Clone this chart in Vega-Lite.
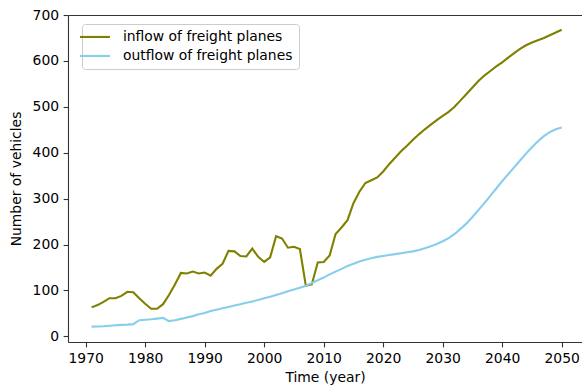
{
  "$schema": "https://vega.github.io/schema/vega-lite/v6.json",
  "autosize": {"type": "none"},
  "padding": {"left": 68, "top": 15, "right": 0, "bottom": 46},
  "width": 514,
  "height": 327,
  "background": "white",
  "config": {
    "view": {"stroke": null},
    "font": "DejaVu Sans",
    "axis": {
      "labelFont": "DejaVu Sans",
      "labelFontSize": 13.9,
      "labelColor": "#000",
      "titleFont": "DejaVu Sans",
      "titleFontSize": 13.9,
      "titleFontWeight": "normal",
      "titleColor": "#000",
      "domainColor": "#333",
      "domainWidth": 1.1,
      "tickColor": "#333",
      "tickWidth": 1.1,
      "tickSize": 4.9,
      "labelPadding": 4.5,
      "grid": false
    }
  },
  "data": {
    "values": [
      {"year": 1971, "inflow": 63, "outflow": 21},
      {"year": 1972, "inflow": 68, "outflow": 21.5},
      {"year": 1973, "inflow": 75, "outflow": 22},
      {"year": 1974, "inflow": 83, "outflow": 23},
      {"year": 1975, "inflow": 83, "outflow": 24},
      {"year": 1976, "inflow": 88, "outflow": 25},
      {"year": 1977, "inflow": 97, "outflow": 25.5},
      {"year": 1978, "inflow": 96, "outflow": 26.5},
      {"year": 1979, "inflow": 83, "outflow": 35},
      {"year": 1980, "inflow": 71, "outflow": 36},
      {"year": 1981, "inflow": 60, "outflow": 37},
      {"year": 1982, "inflow": 60, "outflow": 38.5},
      {"year": 1983, "inflow": 70, "outflow": 40},
      {"year": 1984, "inflow": 90, "outflow": 33},
      {"year": 1985, "inflow": 113, "outflow": 35},
      {"year": 1986, "inflow": 138, "outflow": 38},
      {"year": 1987, "inflow": 137, "outflow": 41},
      {"year": 1988, "inflow": 141, "outflow": 44},
      {"year": 1989, "inflow": 137, "outflow": 48},
      {"year": 1990, "inflow": 139, "outflow": 51},
      {"year": 1991, "inflow": 132, "outflow": 55},
      {"year": 1992, "inflow": 147, "outflow": 58},
      {"year": 1993, "inflow": 158, "outflow": 61},
      {"year": 1994, "inflow": 186, "outflow": 64},
      {"year": 1995, "inflow": 185, "outflow": 67},
      {"year": 1996, "inflow": 175, "outflow": 70},
      {"year": 1997, "inflow": 174, "outflow": 73},
      {"year": 1998, "inflow": 191, "outflow": 76},
      {"year": 1999, "inflow": 173, "outflow": 79},
      {"year": 2000, "inflow": 162, "outflow": 83},
      {"year": 2001, "inflow": 172, "outflow": 86},
      {"year": 2002, "inflow": 218, "outflow": 90},
      {"year": 2003, "inflow": 213, "outflow": 94},
      {"year": 2004, "inflow": 193, "outflow": 98},
      {"year": 2005, "inflow": 195, "outflow": 102},
      {"year": 2006, "inflow": 190, "outflow": 106},
      {"year": 2007, "inflow": 110, "outflow": 110},
      {"year": 2008, "inflow": 113, "outflow": 116},
      {"year": 2009, "inflow": 161, "outflow": 122},
      {"year": 2010, "inflow": 162, "outflow": 128},
      {"year": 2011, "inflow": 176, "outflow": 135},
      {"year": 2012, "inflow": 223, "outflow": 141},
      {"year": 2013, "inflow": 237, "outflow": 147},
      {"year": 2014, "inflow": 253, "outflow": 153},
      {"year": 2015, "inflow": 290, "outflow": 158},
      {"year": 2016, "inflow": 315, "outflow": 163},
      {"year": 2017, "inflow": 334, "outflow": 167},
      {"year": 2018, "inflow": 340, "outflow": 170},
      {"year": 2019, "inflow": 346, "outflow": 173},
      {"year": 2020, "inflow": 359, "outflow": 175},
      {"year": 2021, "inflow": 375, "outflow": 177},
      {"year": 2022, "inflow": 389, "outflow": 179},
      {"year": 2023, "inflow": 403, "outflow": 181},
      {"year": 2024, "inflow": 415, "outflow": 183},
      {"year": 2025, "inflow": 428, "outflow": 185},
      {"year": 2026, "inflow": 440, "outflow": 188},
      {"year": 2027, "inflow": 451, "outflow": 192},
      {"year": 2028, "inflow": 461, "outflow": 196},
      {"year": 2029, "inflow": 471, "outflow": 201},
      {"year": 2030, "inflow": 480, "outflow": 207},
      {"year": 2031, "inflow": 489, "outflow": 214},
      {"year": 2032, "inflow": 500, "outflow": 223},
      {"year": 2033, "inflow": 514, "outflow": 234},
      {"year": 2034, "inflow": 528, "outflow": 246},
      {"year": 2035, "inflow": 542, "outflow": 260},
      {"year": 2036, "inflow": 556, "outflow": 275},
      {"year": 2037, "inflow": 568, "outflow": 290},
      {"year": 2038, "inflow": 578, "outflow": 306},
      {"year": 2039, "inflow": 588, "outflow": 322},
      {"year": 2040, "inflow": 597, "outflow": 338},
      {"year": 2041, "inflow": 607, "outflow": 353},
      {"year": 2042, "inflow": 617, "outflow": 368},
      {"year": 2043, "inflow": 626, "outflow": 383},
      {"year": 2044, "inflow": 634, "outflow": 398},
      {"year": 2045, "inflow": 640, "outflow": 412},
      {"year": 2046, "inflow": 645, "outflow": 425},
      {"year": 2047, "inflow": 650, "outflow": 436},
      {"year": 2048, "inflow": 656, "outflow": 445},
      {"year": 2049, "inflow": 662, "outflow": 451},
      {"year": 2050, "inflow": 668, "outflow": 455}
    ]
  },
  "transform": [{"fold": ["inflow", "outflow"], "as": ["series", "value"]}],
  "encoding": {
    "x": {
      "field": "year",
      "type": "quantitative",
      "scale": {"domain": [1967.03, 2053.41], "nice": false, "zero": false},
      "axis": {"values": [1970, 1980, 1990, 2000, 2010, 2020, 2030, 2040, 2050], "format": "d", "title": "Time (year)", "titlePadding": 5}
    },
    "y": {
      "field": "value",
      "type": "quantitative",
      "scale": {"domain": [-12.4, 700], "nice": false, "zero": false},
      "axis": {"values": [0, 100, 200, 300, 400, 500, 600, 700], "title": "Number of vehicles", "titlePadding": 9}
    },
    "color": {
      "field": "series",
      "type": "nominal",
      "scale": {"domain": ["inflow", "outflow"], "range": ["#808000", "#87ceeb"]},
      "legend": {
        "title": null,
        "orient": "none",
        "legendX": 14,
        "legendY": 9,
        "labelExpr": "datum.label == 'inflow' ? 'inflow of freight planes' : 'outflow of freight planes'",
        "labelFont": "DejaVu Sans",
        "labelFontSize": 13.9,
        "labelColor": "#000",
        "labelLimit": 400,
        "symbolType": "M-3,0H3",
        "symbolSize": 100,
        "symbolStrokeWidth": 2.1,
        "labelOffset": 21,
        "rowPadding": 4,
        "padding": 6,
        "fillColor": "rgba(255,255,255,0.8)",
        "strokeColor": "#cccccc",
        "cornerRadius": 3
      }
    }
  },
  "layer": [
    {
      "transform": [{"filter": "datum.series == 'inflow'"}],
      "mark": {"type": "line", "strokeWidth": 2.1}
    },
    {
      "transform": [{"filter": "datum.series == 'outflow'"}],
      "mark": {"type": "line", "strokeWidth": 2.1},
      "encoding": {
        "x": {
          "field": "year",
          "type": "quantitative",
          "axis": {"orient": "top", "labels": false, "ticks": false, "title": null, "domain": true}
        }
      }
    }
  ],
  "resolve": {"axis": {"x": "independent"}}
}
